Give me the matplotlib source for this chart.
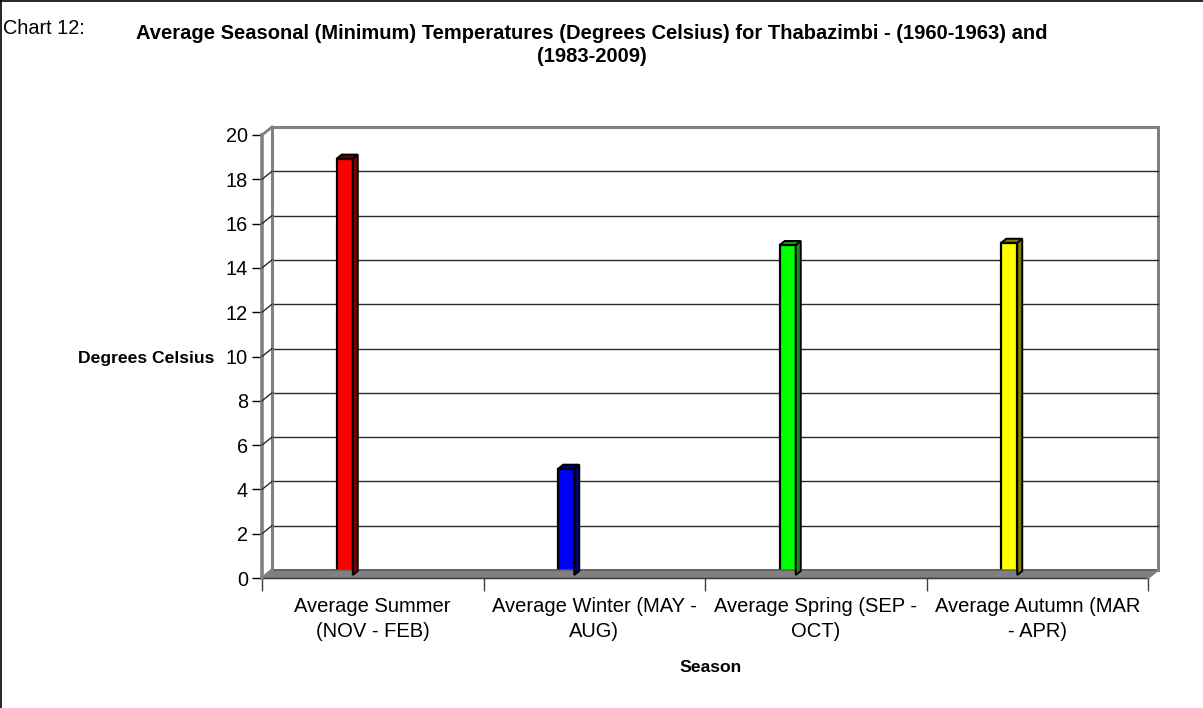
import matplotlib
matplotlib.use("Agg")
import matplotlib.pyplot as plt
from matplotlib.patches import Polygon, Rectangle
from matplotlib.lines import Line2D
import matplotlib.transforms as mtransforms

plt.rcParams['font.family'] = ['Liberation Sans', 'DejaVu Sans']

# ---------------- data ----------------
categories = ["Average Summer\n(NOV - FEB)",
              "Average Winter (MAY -\nAUG)",
              "Average Spring (SEP -\nOCT)",
              "Average Autumn (MAR\n- APR)"]
values = [18.8, 4.8, 14.9, 15.0]
front_colors = ["#FF0000", "#0000FF", "#00FF00", "#FFFF00"]
side_colors = ["#800000", "#000080", "#1E8C1E", "#808000"]
y_ticks = [0, 2, 4, 6, 8, 10, 12, 14, 16, 18, 20]
title_text = ("Average Seasonal (Minimum) Temperatures (Degrees Celsius) for Thabazimbi - (1960-1963) and\n"
              "(1983-2009)")
chart_label = "Chart 12:"
y_label = "Degrees Celsius"
x_label = "Season"

# ---------------- layout (pixels) ----------------
W, H = 1203, 708
DPI = 100
fig = plt.figure(figsize=(W / DPI, H / DPI), dpi=DPI)
fig.patch.set_facecolor("white")

ax_left, ax_right, ax_bottom, ax_top = 262, 1148, 578, 135
ax = fig.add_axes([ax_left / W, 1 - ax_bottom / H,
                   (ax_right - ax_left) / W, (ax_bottom - ax_top) / H])
ax.set_xlim(-0.5, len(values) - 0.5)
ax.set_ylim(0, 20)
ax.patch.set_visible(False)
for s in ax.spines.values():
    s.set_visible(False)

WALL = (10, 8)      # back-wall offset (px right, px up)
BAR_OFF = (-28, 3)  # bar-plane offset
DEPTH = (5, 4)      # bar depth
bar_w = 16 / ((ax_right - ax_left) / len(values))


def shifted(dx, dy):
    return ax.transData + mtransforms.ScaledTranslation(dx / DPI, dy / DPI, fig.dpi_scale_trans)


ident = mtransforms.IdentityTransform()
xl = ax.get_xlim()
T = ax.transData
wall_t = shifted(*WALL)

# floor
fl0 = T.transform((xl[0], 0)); fr0 = T.transform((xl[1], 0))
floor = Polygon([fl0, fr0, (fr0[0] + WALL[0], fr0[1] + WALL[1]), (fl0[0] + WALL[0], fl0[1] + WALL[1])],
                closed=True, transform=ident, facecolor="#808080", edgecolor="#5a5a5a", lw=1.0, zorder=1)
fig.add_artist(floor)

# back wall
wall = Rectangle((xl[0], 0), xl[1] - xl[0], 20, transform=wall_t,
                 facecolor="none", edgecolor="#808080", lw=2.2, zorder=2, clip_on=False)
ax.add_patch(wall)

# gridlines on back wall and side wall
for yv in y_ticks[1:-1]:
    ax.plot([xl[0], xl[1]], [yv, yv], color="#2a2a2a", lw=1.0, transform=wall_t, zorder=2, clip_on=False)
for yv in y_ticks:
    p = T.transform((xl[0], yv))
    inner = 0 < yv < 20
    fig.add_artist(Line2D([p[0], p[0] + WALL[0]], [p[1], p[1] + WALL[1]], transform=ident,
                          color="#2a2a2a" if inner else "#808080", lw=1.0 if inner else 2.0, zorder=2))

# left wall edges
ax.plot([xl[0], xl[0]], [0, 20], color="#808080", lw=2.0, transform=wall_t, zorder=2, clip_on=False)
ax.plot([xl[0], xl[0]], [0, 20], color="#808080", lw=2.6, zorder=3, clip_on=False)
# right end of floor
p = T.transform((xl[1], 0))
fig.add_artist(Line2D([p[0], p[0] + WALL[0]], [p[1], p[1] + WALL[1]], transform=ident,
                      color="#808080", lw=1.5, zorder=2))

# front x axis line
ax.plot([xl[0], xl[1]], [0, 0], color="#000000", lw=1.0, zorder=3, clip_on=False)

# bars
xs = list(range(len(values)))
bars = ax.bar(xs, values, width=bar_w, color=front_colors, edgecolor="black", lw=1.6, zorder=5)
boff = shifted(*BAR_OFF)
for b in bars:
    b.set_transform(boff)
    b.set_clip_on(False)
for x, v, sc in zip(xs, values, side_colors):
    x0, y0 = boff.transform((x - bar_w / 2, 0))
    x1, y1 = boff.transform((x + bar_w / 2, v))
    dx, dy = DEPTH
    side = Polygon([(x1, y0), (x1, y1), (x1 + dx, y1 + dy), (x1 + dx, y0 + dy)], closed=True,
                   transform=ident, facecolor=sc, edgecolor="black", lw=1.4, zorder=4)
    top = Polygon([(x0, y1), (x1, y1), (x1 + dx, y1 + dy), (x0 + dx, y1 + dy)], closed=True,
                  transform=ident, facecolor=sc, edgecolor="black", lw=1.4, zorder=4)
    fig.add_artist(side)
    fig.add_artist(top)

# ticks
ax.set_yticks(y_ticks)
ax.set_yticklabels([str(t) for t in y_ticks])
ax.tick_params(axis="y", length=7, width=1.0, color="black", pad=3, labelsize=14.3)
ax.set_xticks([i - 0.5 for i in range(len(values) + 1)])
ax.set_xticklabels([])
ax.tick_params(axis="x", which="major", length=9, width=1.0, color="#404040")
ax.set_xticks(xs, minor=True)
ax.set_xticklabels(categories, minor=True, fontsize=14.5, linespacing=1.4)
ax.tick_params(axis="x", which="minor", length=0, pad=14)

# texts
fig.text(3 / W, 1 - 28 / H, chart_label, ha="left", va="center", fontsize=14.3)
fig.text(592 / W, 1 - 45 / H, title_text, ha="center", va="center", fontsize=14.5,
         fontweight="bold", linespacing=1.22, multialignment="center")
fig.text(214 / W, 1 - 359 / H, y_label, ha="right", va="center", fontsize=12.6, fontweight="bold")
fig.text(711 / W, 1 - 667 / H, x_label, ha="center", va="center", fontsize=12.6, fontweight="bold")

# outer border (left and top)
fig.add_artist(Line2D([0.5 / W, 0.5 / W], [0, 1], transform=fig.transFigure, color="black", lw=1.2))
fig.add_artist(Line2D([0, 1], [1 - 0.5 / H, 1 - 0.5 / H], transform=fig.transFigure, color="black", lw=1.2))

fig.savefig("out.png", dpi=DPI)
